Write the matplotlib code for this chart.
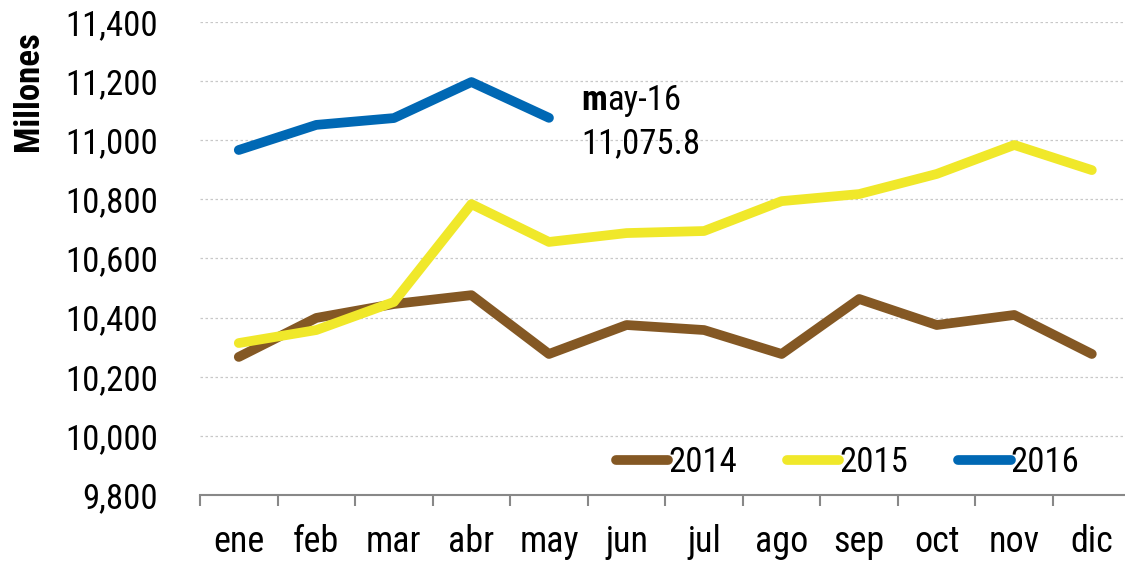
import matplotlib
matplotlib.use("Agg")
import matplotlib.pyplot as plt
from matplotlib.ticker import FuncFormatter, FixedLocator

plt.rcParams['font.family'] = ['Liberation Sans Narrow', 'Roboto Condensed', 'Open Sans Condensed', 'DejaVu Sans']
plt.rcParams['font.stretch'] = 'condensed'

months = ["ene", "feb", "mar", "abr", "may", "jun", "jul", "ago", "sep", "oct", "nov", "dic"]
y2014 = [10267, 10399, 10446, 10476, 10277, 10375, 10358, 10277, 10463, 10375, 10409, 10277]
y2015 = [10314, 10358, 10453, 10784, 10656, 10686, 10693, 10794, 10818, 10886, 10984, 10899]
y2016 = [10967, 11052, 11075, 11197, 11075.8]
series_labels = ["2014", "2015", "2016"]
colors = ["#845824", "#F0E82A", "#0068B4"]
yticks = [9800, 10000, 10200, 10400, 10600, 10800, 11000, 11200, 11400]

W, H = 1125, 562
fig = plt.figure(figsize=(W / 100, H / 100), dpi=100)
ax = fig.add_axes([200 / W, 67 / H, 930.6 / W, 473 / H])

x = list(range(len(months)))
for vals, lab, c in zip([y2014, y2015, y2016], series_labels, colors):
    ax.plot(x[:len(vals)], vals, color=c, lw=7, label=lab,
            solid_capstyle='round', solid_joinstyle='round')

ax.set_xlim(-0.5, 11.5)
ax.set_ylim(yticks[0], yticks[-1])
ax.set_yticks(yticks)
ax.yaxis.set_major_formatter(FuncFormatter(lambda v, p: f"{int(v):,}"))
ax.set_xticks(x)
ax.set_xticklabels(months)
ax.xaxis.set_minor_locator(FixedLocator([i - 0.5 for i in range(13)]))

ax.grid(axis='y', color='#c8c8c8', linestyle=(0, (2, 2)), linewidth=0.9)
ax.set_axisbelow(True)
for s in ['left', 'right', 'top']:
    ax.spines[s].set_visible(False)
ax.spines['bottom'].set_color('#888888')
ax.spines['bottom'].set_linewidth(1.5)

ax.tick_params(axis='y', length=0, pad=30, labelsize=25)
ax.tick_params(axis='x', which='major', length=0, pad=21, labelsize=26)
ax.tick_params(axis='x', which='minor', length=8, width=1.5, color='#888888', direction='out')

fig.text(28 / W, 1 - 91 / H, "Millones", rotation=90, fontsize=25, fontweight='bold',
         ha='center', va='center')

# annotation
tm = ax.text(4.42, 11102, "m", fontsize=25, fontweight='bold', ha='left', va='baseline')
ax.annotate("ay-16", xy=(1, 0), xycoords=tm, fontsize=25, ha='left', va='bottom')
ax.text(4.42, 10957, f"{y2016[-1]:,.1f}", fontsize=25, ha='left', va='baseline')

leg = ax.legend(loc='center right', bbox_to_anchor=(0.945, 0.068), ncol=3, frameon=False,
                fontsize=25, handlelength=1.5, handletextpad=0.0, columnspacing=1.45,
                borderpad=0, borderaxespad=0)
for h in leg.get_lines():
    h.set_solid_capstyle('round')

fig.savefig("out.png", dpi=100)
